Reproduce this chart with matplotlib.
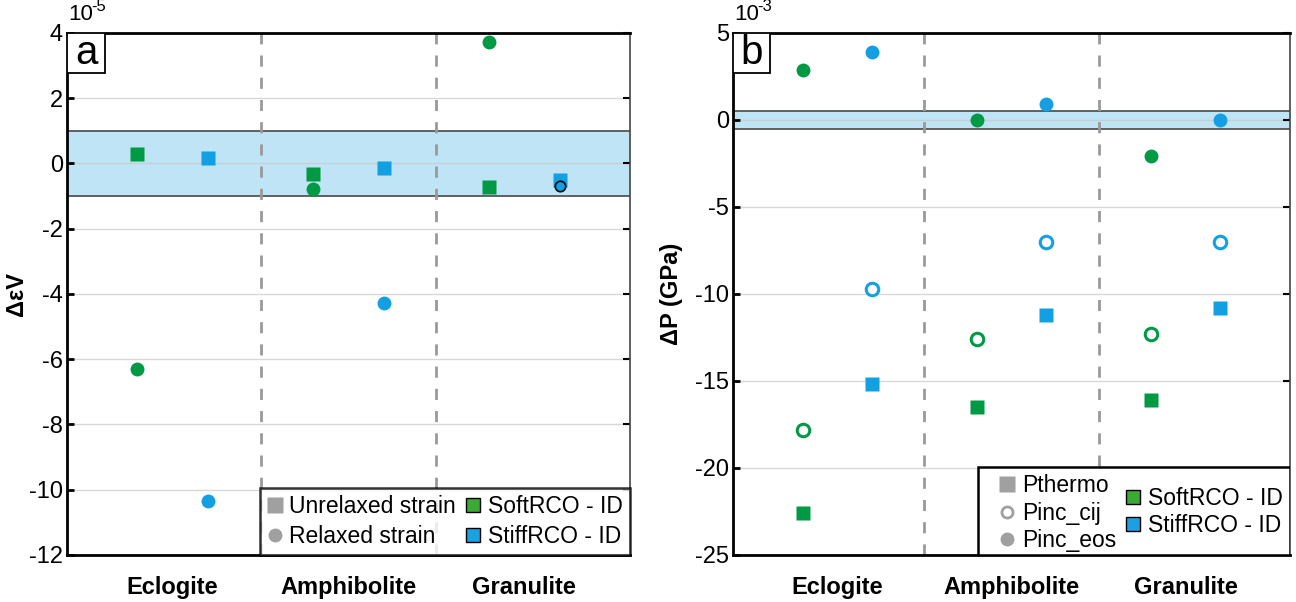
import matplotlib
matplotlib.use("Agg")
import matplotlib.pyplot as plt
from matplotlib.lines import Line2D
from matplotlib.patches import Rectangle

plt.rcParams['font.family'] = ['Liberation Sans', 'DejaVu Sans']

# --- data ---
rocks = ["Eclogite", "Amphibolite", "Granulite"]

# panel a : strain change (x 1e-5)
soft_unrelaxed = [0.28, -0.33, -0.72]
soft_relaxed = [-6.3, -0.78, 3.72]
stiff_unrelaxed = [0.16, -0.15, -0.52]
stiff_relaxed = [-10.35, -4.27, -0.68]

# panel b : pressure change (x 1e-3 GPa)
soft_pthermo = [-22.6, -16.5, -16.1]
soft_pinc_cij = [-17.8, -12.6, -12.3]
soft_pinc_eos = [2.9, 0.0, -2.05]
stiff_pthermo = [-15.2, -11.2, -10.8]
stiff_pinc_cij = [-9.7, -7.0, -7.0]
stiff_pinc_eos = [3.9, 0.9, 0.0]

GREEN = '#009a44'
BLUE = '#13a0e3'
LEG_GREEN = '#3aaa35'
LEG_BLUE = '#1ba1e2'
GRAY = '#a0a0a0'
FS = 17
LFS = 16.5

fig = plt.figure(figsize=(12.96, 6.02), dpi=100, facecolor='white')
ax_a = fig.add_axes([0.0517, 0.0781, 0.4344, 0.8671])
ax_b = fig.add_axes([0.5656, 0.0781, 0.4298, 0.8671])

pos = [1, 2, 3]
off = 0.2


def style_axes(ax, ylim, yticks, band, label, ylabel, expo, box_w, ylab_x):
    ax.set_xlim(0.4, 3.6)
    ax.set_ylim(*ylim)
    ax.set_yticks(yticks)
    ax.set_yticklabels([str(t) for t in yticks], fontsize=FS)
    ax.set_xticks(pos)
    ax.set_xticklabels(rocks, fontsize=FS, fontweight='bold')
    ax.tick_params(axis='x', length=0, pad=15)
    ax.tick_params(axis='y', direction='in', length=5, width=2, pad=3,
                   right=True)
    for t in ax.yaxis.get_major_ticks():
        t.tick2line.set_markeredgewidth(1.5)
    # gridlines
    for t in yticks:
        ax.axhline(t, color='#c8c8c8', lw=1, alpha=0.7, zorder=1)
    # shaded band
    ax.axhspan(-band, band, facecolor='#bee4f5', edgecolor='none', zorder=0.5)
    ax.axhline(band, color='#555555', lw=1.3, zorder=1.2)
    ax.axhline(-band, color='#555555', lw=1.3, zorder=1.2)
    # dashed separators
    for xv in [1.5, 2.5]:
        ax.axvline(xv, color='#999999', lw=2, linestyle=(0, (4, 4)), zorder=1.5)
    for s in ['left', 'bottom', 'top']:
        ax.spines[s].set_linewidth(2)
        ax.spines[s].set_color('black')
    ax.spines['right'].set_linewidth(1.2)
    ax.spines['right'].set_color('#444444')
    # panel letter box
    ax.add_patch(Rectangle((0, 1 - 0.0766), box_w, 0.0766,
                           transform=ax.transAxes, facecolor='white',
                           edgecolor='black', lw=1.3, zorder=10))
    ax.text(box_w / 2, 1 - 0.0766 / 2, label, transform=ax.transAxes,
            fontsize=29, ha='center', va='center', zorder=11)
    # exponent above the axis
    ax.text(0.002, 1.015, '10', transform=ax.transAxes, fontsize=16,
            ha='left', va='bottom')
    ax.annotate(str(expo), xy=(0.002, 1.015), xycoords='axes fraction',
                xytext=(17, 8), textcoords='offset points', fontsize=12,
                ha='left', va='bottom')
    ax.set_ylabel(ylabel, fontsize=FS, fontweight='bold')
    ax.yaxis.set_label_coords(ylab_x, 0.5)


# ---- panel a ----
style_axes(ax_a, (-12, 4), [-12, -10, -8, -6, -4, -2, 0, 2, 4], 1.0, 'a',
           'Δ\u03b5V', -5, 0.0675, -0.069)
xs_soft = [p - off for p in pos]
xs_stiff = [p + off for p in pos]
ax_a.plot(xs_soft, soft_unrelaxed, 's', color=GREEN, ms=9.5, mec='none', zorder=3)
ax_a.plot(xs_soft, soft_relaxed, 'o', color=GREEN, ms=10, mec='none', zorder=3)
ax_a.plot(xs_stiff, stiff_unrelaxed, 's', color=BLUE, ms=9.5, mec='none', zorder=3)
ax_a.plot(xs_stiff[:2], stiff_relaxed[:2], 'o', color=BLUE, ms=10, mec='none', zorder=3)
ax_a.plot(xs_stiff[2:], stiff_relaxed[2:], 'o', color=BLUE, ms=7.5, mec='black',
          mew=1.2, zorder=4)

h_a = [Line2D([], [], marker='s', ls='none', color=GRAY, ms=11, mec='none'),
       Line2D([], [], marker='o', ls='none', color=GRAY, ms=10, mec='none'),
       Line2D([], [], marker='s', ls='none', color=LEG_GREEN, ms=10, mec='black', mew=1),
       Line2D([], [], marker='s', ls='none', color=LEG_BLUE, ms=10, mec='black', mew=1)]
leg = ax_a.legend(h_a, ['Unrelaxed strain', 'Relaxed strain', 'SoftRCO - ID',
                        'StiffRCO - ID'],
                  ncol=2, loc='lower right', borderaxespad=0, fontsize=LFS,
                  frameon=True, fancybox=False, handlelength=0.7,
                  handletextpad=0.3, columnspacing=0.4, labelspacing=0.3,
                  borderpad=0.3)
leg.get_frame().set_edgecolor('black')
leg.get_frame().set_linewidth(1.8)
leg.set_zorder(20)

# ---- panel b ----
style_axes(ax_b, (-25, 5), [-25, -20, -15, -10, -5, 0, 5], 0.5, 'b',
           'ΔP (GPa)', -3, 0.0665, -0.09)
ax_b.plot(xs_soft, soft_pthermo, 's', color=GREEN, ms=9.5, mec='none', zorder=3)
ax_b.plot(xs_soft, soft_pinc_cij, 'o', color='white', ms=9, mec=GREEN, mew=2.2, zorder=3)
ax_b.plot(xs_soft, soft_pinc_eos, 'o', color=GREEN, ms=10, mec='none', zorder=3)
ax_b.plot(xs_stiff, stiff_pthermo, 's', color=BLUE, ms=9.5, mec='none', zorder=3)
ax_b.plot(xs_stiff, stiff_pinc_cij, 'o', color='white', ms=9, mec=BLUE, mew=2.2, zorder=3)
ax_b.plot(xs_stiff, stiff_pinc_eos, 'o', color=BLUE, ms=10, mec='none', zorder=3)

ax_b.add_patch(Rectangle((0.44, 0.0), 0.56, 0.1686, transform=ax_b.transAxes,
                         facecolor='white', edgecolor='black', lw=1.8, zorder=15))
h_b1 = [Line2D([], [], marker='s', ls='none', color=GRAY, ms=11, mec='none'),
        Line2D([], [], marker='o', ls='none', color='white', ms=8, mec=GRAY, mew=2),
        Line2D([], [], marker='o', ls='none', color=GRAY, ms=10, mec='none')]
leg1 = ax_b.legend(h_b1, ['Pthermo', 'Pinc_cij', 'Pinc_eos'],
                   loc='lower left', bbox_to_anchor=(0.445, -0.03),
                   frameon=False, fontsize=LFS, handlelength=0.7,
                   handletextpad=0.3, labelspacing=0.2, borderpad=0.3)
leg1.set_zorder(20)
ax_b.add_artist(leg1)
h_b2 = [Line2D([], [], marker='s', ls='none', color=LEG_GREEN, ms=10, mec='black', mew=1),
        Line2D([], [], marker='s', ls='none', color=LEG_BLUE, ms=10, mec='black', mew=1)]
leg2 = ax_b.legend(h_b2, ['SoftRCO - ID', 'StiffRCO - ID'],
                   loc='center left', bbox_to_anchor=(0.675, 0.082),
                   frameon=False, fontsize=LFS, handlelength=0.7,
                   handletextpad=0.3, labelspacing=0.2, borderpad=0.2)
leg2.set_zorder(20)

fig.savefig('out.png', dpi=100, facecolor='white')
